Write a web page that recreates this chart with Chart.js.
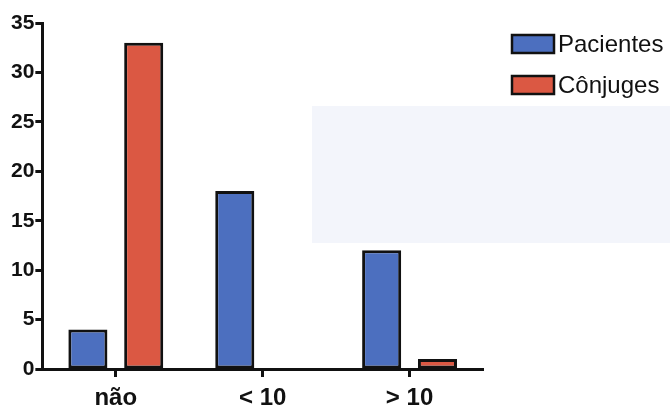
<!DOCTYPE html>
<html>
<head>
<meta charset="utf-8">
<script src="https://cdn.jsdelivr.net/npm/chart.js@4/dist/chart.umd.min.js"></script>
<style>
html,body{margin:0;padding:0;background:#fff;}
#wrap{width:670px;height:406px;position:relative;}
</style>
</head>
<body>
<div id="wrap"><canvas id="c" width="670" height="406"></canvas></div>
<script>
const categories = ["não", "< 10", "> 10"];
const pacientes = [4, 18, 12];
const conjuges = [33, 0, 1];
const seriesNames = ["Pacientes", "Cônjuges"];
const yTicks = [0, 5, 10, 15, 20, 25, 30, 35];

const BLUE = '#4c6fbf';
const RED = '#db5843';
const INK = '#111';

// faint background remnant + legend drawn to the right of the plot
const decor = {
  id: 'decor',
  beforeDraw(chart) {
    const c = chart.ctx;
    c.save();
    c.fillStyle = '#f3f5fb';
    c.fillRect(312, 106, 358, 137);
    c.restore();
  },
  afterDraw(chart) {
    const c = chart.ctx;
    const items = chart.data.datasets.map(d => ({ text: d.label, color: d.backgroundColor }));
    const x0 = chart.chartArea.right + 29;
    let y = 44;
    c.save();
    c.font = '24px "Liberation Sans"';
    c.textBaseline = 'middle';
    items.forEach(it => {
      c.fillStyle = it.color;
      c.fillRect(x0, y - 9, 42, 18);
      c.strokeStyle = INK;
      c.lineWidth = 2.5;
      c.strokeRect(x0, y - 9, 42, 18);
      c.fillStyle = INK;
      c.fillText(it.text, x0 + 46, y + 1);
      y += 41;
    });
    c.restore();
  }
};

const ctx = document.getElementById('c').getContext('2d');
new Chart(ctx, {
  type: 'bar',
  data: {
    labels: categories,
    datasets: [
      { label: seriesNames[0], data: pacientes, backgroundColor: BLUE, borderColor: INK, borderWidth: 3, borderSkipped: false },
      { label: seriesNames[1], data: conjuges, backgroundColor: RED, borderColor: INK, borderWidth: 3, borderSkipped: false }
    ]
  },
  plugins: [decor],
  options: {
    responsive: false,
    animation: false,
    devicePixelRatio: 1,
    layout: { padding: { left: 10, top: 23, right: 187, bottom: -13 } },
    datasets: { bar: { categoryPercentage: 0.76, barPercentage: 0.7 } },
    plugins: {
      tooltip: { enabled: false },
      legend: { display: false }
    },
    scales: {
      x: {
        grid: { display: true, drawOnChartArea: false, offset: false, drawTicks: true, tickLength: 8, tickWidth: 3, tickColor: INK },
        border: { display: true, color: INK, width: 3 },
        ticks: { color: INK, font: { family: 'Liberation Sans', size: 24, weight: 'bold', lineHeight: 1 }, padding: 9 }
      },
      y: {
        min: 0, max: 35,
        afterBuildTicks(scale) { scale.ticks = yTicks.map(v => ({ value: v })); },
        grid: { display: true, drawOnChartArea: false, drawTicks: true, tickLength: 7, tickWidth: 3, tickColor: INK },
        border: { display: true, color: INK, width: 3 },
        ticks: { color: INK, font: { family: 'Liberation Sans', size: 21, weight: 'bold' }, padding: 1 }
      }
    }
  }
});
</script>
</body>
</html>
